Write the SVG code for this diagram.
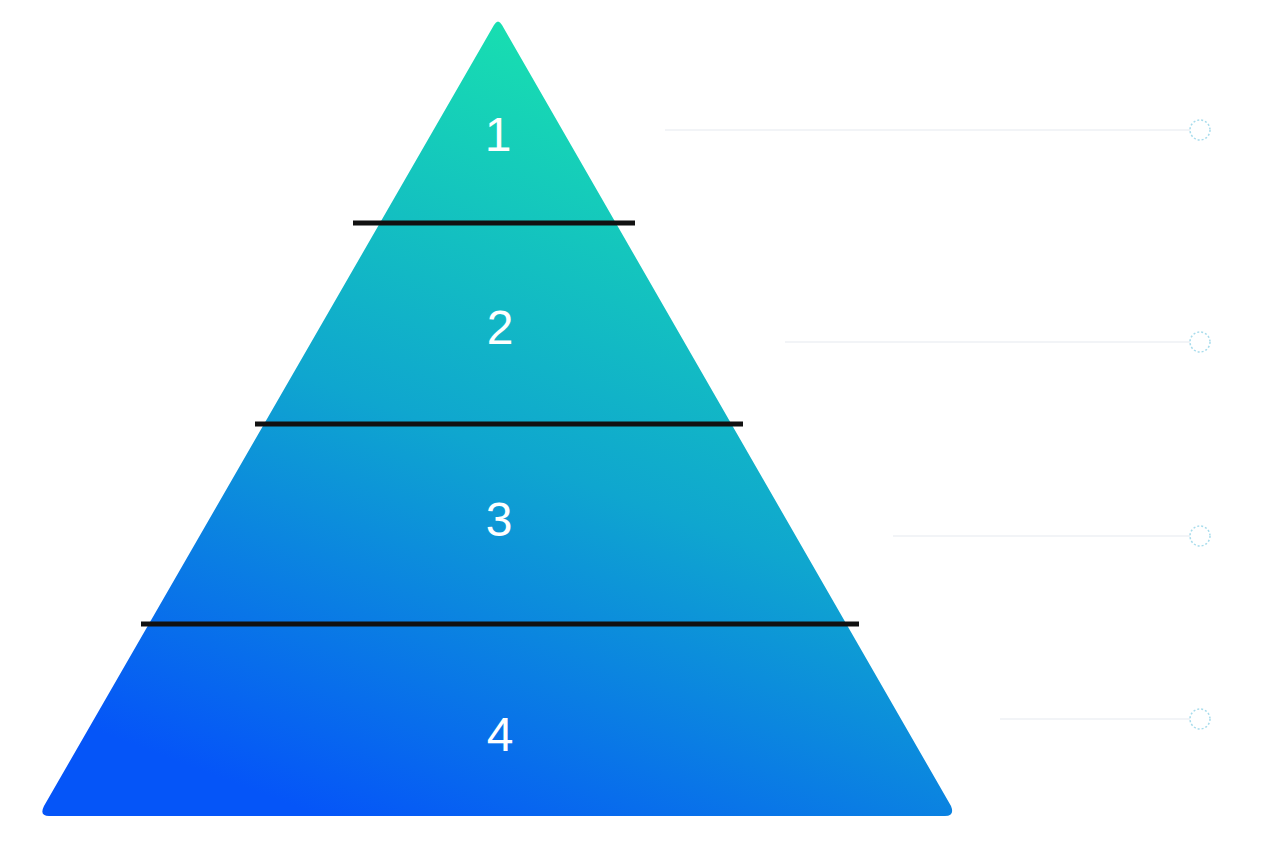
<svg xmlns="http://www.w3.org/2000/svg" width="1272" height="864" viewBox="0 0 1272 864">
<style>
.num{font-family:"Liberation Sans",Arial,sans-serif;font-size:48px;fill:#fff;text-anchor:middle}
.sep{stroke:#111;stroke-width:5}
.lead{stroke:#eef1f5;stroke-width:1.5}
.dot{fill:#fff;stroke:#a8dcec;stroke-width:1.5;stroke-dasharray:2 2}
</style>
<defs>
<linearGradient id="g" x1="620" y1="60" x2="330" y2="820" gradientUnits="userSpaceOnUse">
<stop offset="0" stop-color="#18dfb0"/>
<stop offset="0.5" stop-color="#0fa6cf"/>
<stop offset="1" stop-color="#0555f8"/>
</linearGradient>
</defs>
<g id="pyramid">
<path d="M494 25 Q498 18 502 25 L951 806 Q955 816 945 816 L49 816 Q39 816 44 806 Z" fill="url(#g)"/>
</g>
<g id="separators">
<line class="sep" x1="353" y1="223" x2="635" y2="223"/>
<line class="sep" x1="255" y1="424" x2="743" y2="424"/>
<line class="sep" x1="141" y1="624" x2="859" y2="624"/>
</g>
<g id="labels">
<text class="num" x="498" y="151">1</text>
<text class="num" x="500" y="344">2</text>
<text class="num" x="499" y="536">3</text>
<text class="num" x="500" y="751">4</text>
</g>
<g id="connectors">
<line class="lead" x1="665" y1="130" x2="1190" y2="130"/>
<line class="lead" x1="785" y1="342" x2="1190" y2="342"/>
<line class="lead" x1="893" y1="536" x2="1190" y2="536"/>
<line class="lead" x1="1000" y1="719" x2="1190" y2="719"/>
</g>
<g id="dots">
<circle class="dot" cx="1200" cy="130" r="10"/>
<circle class="dot" cx="1200" cy="342" r="10"/>
<circle class="dot" cx="1200" cy="536" r="10"/>
<circle class="dot" cx="1200" cy="719" r="10"/>
</g>
</svg>
